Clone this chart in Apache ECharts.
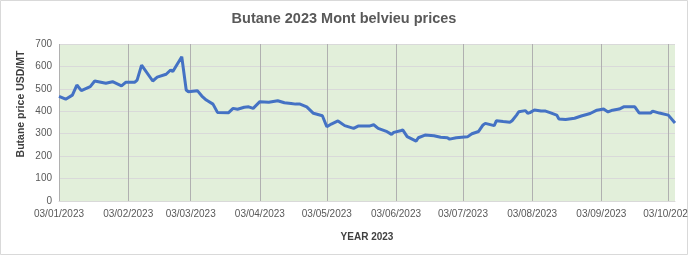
<!DOCTYPE html>
<html>
<head>
<meta charset="utf-8">
<script src="https://cdn.jsdelivr.net/npm/echarts@6/dist/echarts.min.js"></script>
<style>
html,body{margin:0;padding:0;background:#fff;}
#c{width:688px;height:255px;}
</style>
</head>
<body>
<div id="c"></div>
<script>
// ---- data ----
var priceDates = [
 '2023-01-03','2023-01-06','2023-01-09','2023-01-11','2023-01-13','2023-01-17','2023-01-19','2023-01-24','2023-01-27','2023-01-31',
 '2023-02-02','2023-02-06','2023-02-07','2023-02-09','2023-02-14','2023-02-16','2023-02-20','2023-02-22','2023-02-23','2023-02-27',
 '2023-03-01','2023-03-02','2023-03-06','2023-03-08','2023-03-10','2023-03-13','2023-03-15','2023-03-20','2023-03-22','2023-03-24',
 '2023-03-27','2023-03-29','2023-03-31','2023-04-03','2023-04-07','2023-04-11','2023-04-14','2023-04-17','2023-04-19','2023-04-21',
 '2023-04-24','2023-04-27','2023-05-01','2023-05-03','2023-05-05','2023-05-08','2023-05-11','2023-05-15','2023-05-17','2023-05-22',
 '2023-05-24','2023-05-26','2023-05-30','2023-06-01','2023-06-02','2023-06-05','2023-06-06','2023-06-08','2023-06-12','2023-06-13',
 '2023-06-16','2023-06-20','2023-06-23','2023-06-26','2023-06-27','2023-06-30','2023-07-05','2023-07-07','2023-07-10','2023-07-12',
 '2023-07-13','2023-07-17','2023-07-18','2023-07-21','2023-07-24','2023-07-25','2023-07-27','2023-07-28','2023-07-31','2023-08-01',
 '2023-08-02','2023-08-04','2023-08-07','2023-08-09','2023-08-11','2023-08-14','2023-08-15','2023-08-18','2023-08-22','2023-08-25',
 '2023-08-29','2023-09-01','2023-09-04','2023-09-06','2023-09-08','2023-09-11','2023-09-13','2023-09-18','2023-09-20','2023-09-25',
 '2023-09-26','2023-09-29','2023-10-03','2023-10-06'
];
var priceValues = [
 467,454,472,517,492,510,535,525,532,513,
 530,530,539,606,535,552,565,584,577,643,
 495,487,492,468,450,432,395,394,413,409,
 418,420,413,443,440,447,438,435,432,432,
 420,391,380,331,343,357,336,324,334,334,
 340,324,309,297,306,313,317,287,267,282,
 294,291,284,282,276,282,286,300,310,339,
 346,336,358,354,351,358,383,398,403,391,
 394,406,401,401,394,383,366,363,369,379,
 390,405,410,397,405,410,420,420,392,392,
 401,392,383,348
];
var tickLabels = ['03/01/2023','03/02/2023','03/03/2023','03/04/2023','03/05/2023','03/06/2023','03/07/2023','03/08/2023','03/09/2023','03/10/2023'];
var axisStart = '2023-01-03';
var axisEnd = '2023-10-06';
var yTicks = [0,100,200,300,400,500,600,700];

function fmt(iso){ var p = iso.split('-'); return p[2]+'/'+p[1]+'/'+p[0]; }
// build daily category axis
var categories = [];
(function(){
  var d = new Date(axisStart+'T00:00:00Z'), e = new Date(axisEnd+'T00:00:00Z');
  while (d <= e) {
    categories.push(fmt(d.toISOString().slice(0,10)));
    d = new Date(d.getTime()+86400000);
  }
})();
var seriesData = priceDates.map(function(d,i){ return [fmt(d), priceValues[i]]; });
var isTick = function(idx, val){ return tickLabels.indexOf(categories[idx]) >= 0; };

var chart = echarts.init(document.getElementById('c'), null, {renderer:'canvas'});
chart.setOption({
  animation:false,
  backgroundColor:'#ffffff',
  textStyle:{fontFamily:'Liberation Sans'},
  title:{
    text:'Butane 2023 Mont belvieu prices',
    left:'center', top:6,
    textStyle:{fontFamily:'Liberation Sans', fontSize:14.5, fontWeight:'bold', color:'#595959'}
  },
  graphic:[
    {type:'rect', shape:{x:0.5,y:0.5,width:687,height:254}, style:{fill:'none', stroke:'#d9d9d9', lineWidth:1}, silent:true},
    {type:'text', x:21, y:104, rotation:Math.PI/2,
     style:{text:'Butane price USD/MT', fontFamily:'Liberation Sans', fontSize:10.5, fontWeight:'bold', fill:'#404040', textAlign:'center', textVerticalAlign:'middle'}}
  ],
  grid:{left:59, right:13, top:44, bottom:54, show:true, backgroundColor:'#e2efda', borderWidth:0, containLabel:false, outerBoundsMode:'none'},
  xAxis:{
    type:'category', data:categories, boundaryGap:false,
    name:'YEAR 2023', nameLocation:'middle', nameGap:31,
    nameTextStyle:{fontFamily:'Liberation Sans', fontSize:10, fontWeight:'bold', color:'#404040'},
    axisLine:{show:true, lineStyle:{color:'#d9d9d9'}},
    axisTick:{show:false},
    axisLabel:{interval:isTick, color:'#595959', fontSize:10, margin:8},
    splitLine:{show:true, interval:isTick, lineStyle:{color:'#b0b0b0', width:1}}
  },
  yAxis:{
    type:'value', min:yTicks[0], max:yTicks[yTicks.length-1], interval:100,
    axisLine:{show:false}, axisTick:{show:false},
    axisLabel:{color:'#595959', fontSize:10, margin:7},
    splitLine:{show:true, lineStyle:{color:'#d9d9d9', width:1}}
  },
  series:[{
    type:'line', data:seriesData, showSymbol:false, symbol:'none',
    lineStyle:{color:'#4472c4', width:3}, z:3
  }]
});
</script>
</body>
</html>
